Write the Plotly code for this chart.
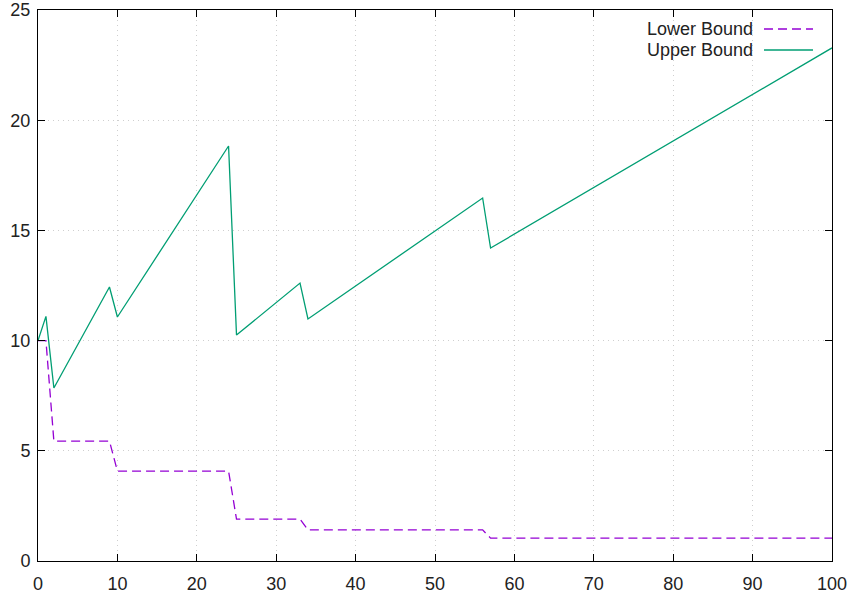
import plotly.graph_objects as go

x_points = [0, 1, 2, 9, 10, 24, 25, 33, 34, 56, 57, 100]
upper_bound = [10.0, 11.1, 7.85, 12.43, 11.07, 18.83, 10.25, 12.61, 10.98, 16.47, 14.2, 23.28]
lower_bound = [10.0, 10.0, 5.44, 5.44, 4.08, 4.08, 1.9, 1.9, 1.41, 1.41, 1.04, 1.04]

x_ticks = [0, 10, 20, 30, 40, 50, 60, 70, 80, 90, 100]
y_ticks = [0, 5, 10, 15, 20, 25]

PURPLE = "#9400D3"
GREEN = "#009E73"
FONT = "Liberation Sans, Arial, sans-serif"
FS = 18

fig = go.Figure()
fig.add_trace(go.Scatter(x=x_points, y=lower_bound, mode="lines", name="Lower Bound",
                         line=dict(color=PURPLE, width=1.3, dash="9px,5px")))
fig.add_trace(go.Scatter(x=x_points, y=upper_bound, mode="lines", name="Upper Bound",
                         line=dict(color=GREEN, width=1.3)))

axis_common = dict(showline=True, linecolor="black", linewidth=1, mirror="ticks",
                   ticks="inside", ticklen=7, tickcolor="black", tickwidth=1,
                   showgrid=True, gridcolor="#cfcfcf", griddash="1px,4px", gridwidth=1,
                   zeroline=False, automargin=False,
                   tickfont=dict(family=FONT, size=FS, color="#222"))

fig.update_xaxes(range=[0, 100], tickvals=x_ticks, ticklabelstandoff=6, **axis_common)
fig.update_yaxes(range=[0, 25], tickvals=y_ticks, ticklabelstandoff=3, **axis_common)

# gnuplot-style key: text right-aligned, sample line to its right
legend_items = [("Lower Bound", PURPLE, "9px,5px"), ("Upper Bound", GREEN, "solid")]
for i, (label, color, dash) in enumerate(legend_items):
    yp = 1 - (19 + i * 21) / 551
    fig.add_annotation(xref="paper", yref="paper", x=(755 - 38) / 794, y=yp,
                       text=label, showarrow=False, xanchor="right", yanchor="middle",
                       font=dict(family=FONT, size=FS, color="#222"))
    fig.add_shape(type="line", xref="paper", yref="paper",
                  x0=(764 - 38) / 794, x1=(813 - 38) / 794, y0=yp, y1=yp,
                  line=dict(color=color, width=1.3, dash=dash))

fig.update_layout(width=856, height=597, showlegend=False,
                  paper_bgcolor="white", plot_bgcolor="white",
                  margin=dict(l=38, r=24, t=10, b=36),
                  font=dict(family=FONT, size=FS))

fig.write_html("out.html")
